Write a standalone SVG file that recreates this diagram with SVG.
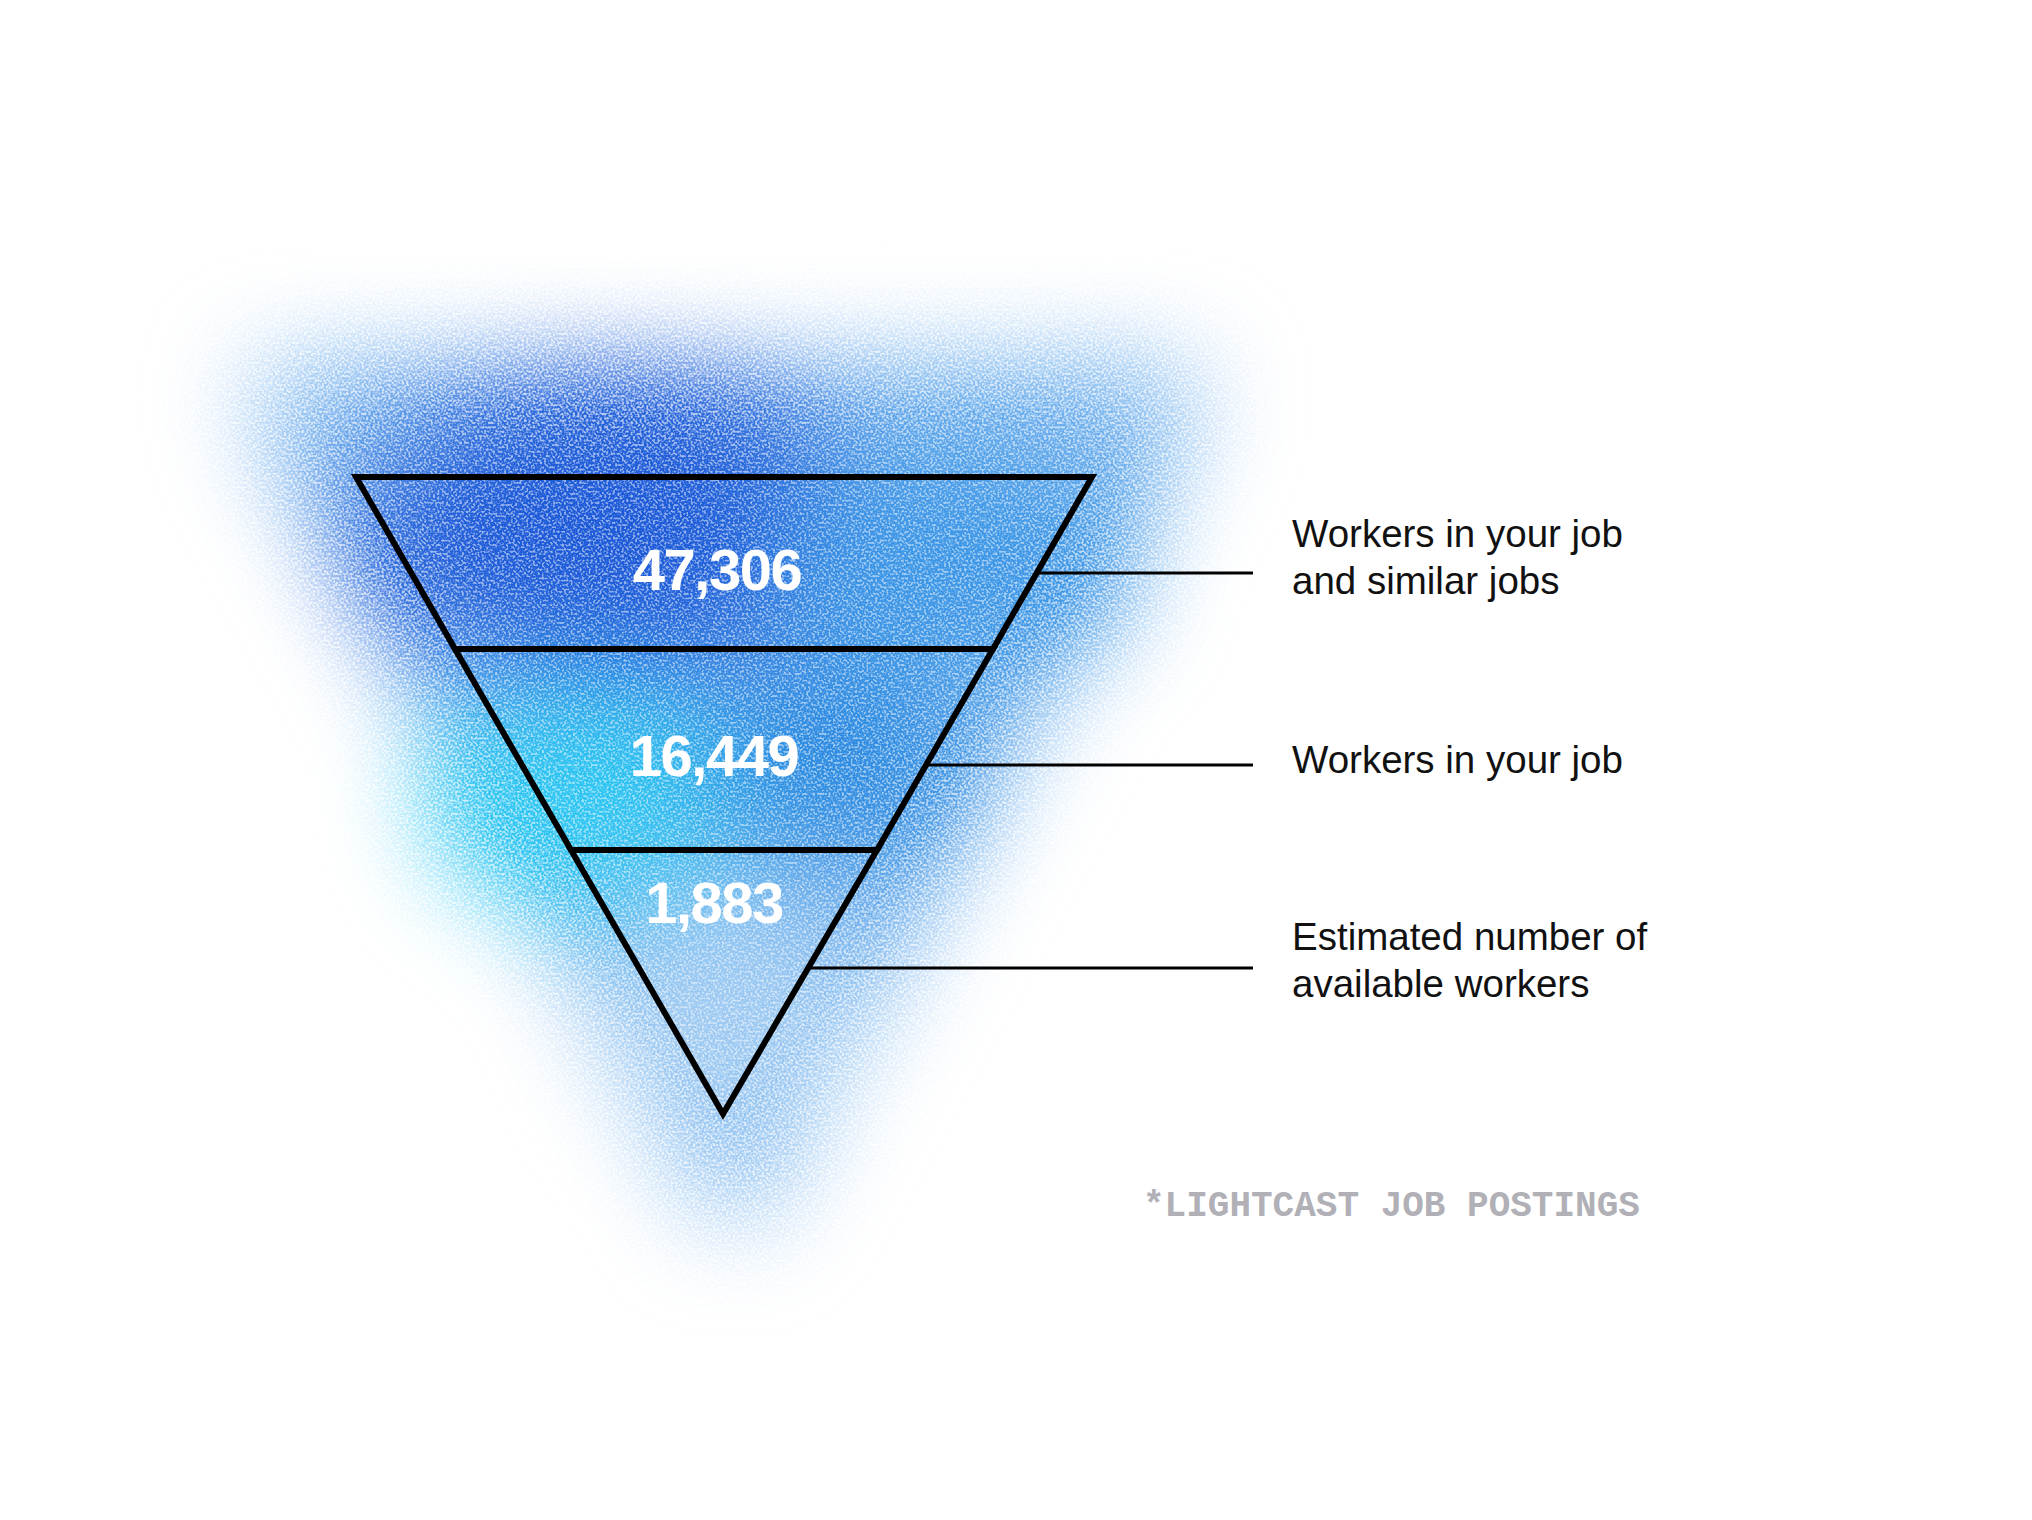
<svg xmlns="http://www.w3.org/2000/svg" width="2032" height="1520" viewBox="0 0 2032 1520">
<style>
.tier{fill:none;stroke:#000;stroke-width:6;stroke-linejoin:miter}
.num{font-family:"Liberation Sans",Arial,sans-serif;font-weight:700;font-size:58px;fill:#fff;text-anchor:middle;letter-spacing:-1.5px}
.lbl{font-family:"Liberation Sans",Arial,sans-serif;font-size:38.5px;fill:#111}
.con{stroke:#000;stroke-width:3;fill:none}
.note{font-family:"Liberation Mono","DejaVu Sans Mono",monospace;font-weight:700;font-size:36px;fill:#b0b0b6}
</style>
<defs>
<filter id="grain" x="-40%" y="-40%" width="180%" height="180%" color-interpolation-filters="sRGB">
<feGaussianBlur in="SourceGraphic" stdDeviation="56" result="b"/>
<feTurbulence type="fractalNoise" baseFrequency="0.45" numOctaves="1" seed="7" result="t"/>
<feColorMatrix in="t" type="matrix" values="0 0 0 0 0  0 0 0 0 0  0 0 0 0 0  4 0 0 0 -1.4" result="n"/>
<feComposite in="b" in2="n" operator="in" result="d"/>
<feComponentTransfer in="d" result="d2"><feFuncA type="linear" slope="1.4"/></feComponentTransfer>
<feComponentTransfer in="b" result="base"><feFuncA type="linear" slope="0.5"/></feComponentTransfer>
<feMerge><feMergeNode in="base"/><feMergeNode in="d2"/></feMerge>
</filter>
</defs>
<rect width="2032" height="1520" fill="#fff"/>
<g id="glow" filter="url(#grain)">
<polygon points="250,380 1200,380 735,1230" fill="#78b4ee"/>
<ellipse cx="620" cy="530" rx="260" ry="140" fill="#1d5ad8"/>
<ellipse cx="940" cy="560" rx="180" ry="110" fill="#3c96e6"/>
<ellipse cx="590" cy="790" rx="150" ry="110" fill="#2cc6f2"/>
<ellipse cx="830" cy="760" rx="130" ry="95" fill="#2888e0"/>
<ellipse cx="725" cy="1010" rx="110" ry="120" fill="#a0cbf2"/>
</g>
<g id="connectors">
<line class="con" x1="1037" y1="573" x2="1253" y2="573"/>
<line class="con" x1="926" y1="765" x2="1253" y2="765"/>
<line class="con" x1="809" y1="968" x2="1253" y2="968"/>
</g>
<g id="tier-1">
<polygon class="tier" points="356,477 1092,477 993,649 455,649"/>
<text class="num" x="717" y="590">47,306</text>
</g>
<g id="tier-2">
<polygon class="tier" points="455,649 993,649 877,850 571,850"/>
<text class="num" x="714" y="776">16,449</text>
</g>
<g id="tier-3">
<polygon class="tier" points="571,850 877,850 723,1114"/>
<text class="num" x="714" y="923">1,883</text>
</g>
<g id="label-1">
<text class="lbl" x="1292" y="547">Workers in your job</text>
<text class="lbl" x="1292" y="594">and similar jobs</text>
</g>
<g id="label-2">
<text class="lbl" x="1292" y="773">Workers in your job</text>
</g>
<g id="label-3">
<text class="lbl" x="1292" y="950">Estimated number of</text>
<text class="lbl" x="1292" y="997">available workers</text>
</g>
<g id="footnote">
<text class="note" x="1143" y="1216">*LIGHTCAST JOB POSTINGS</text>
</g>
</svg>
